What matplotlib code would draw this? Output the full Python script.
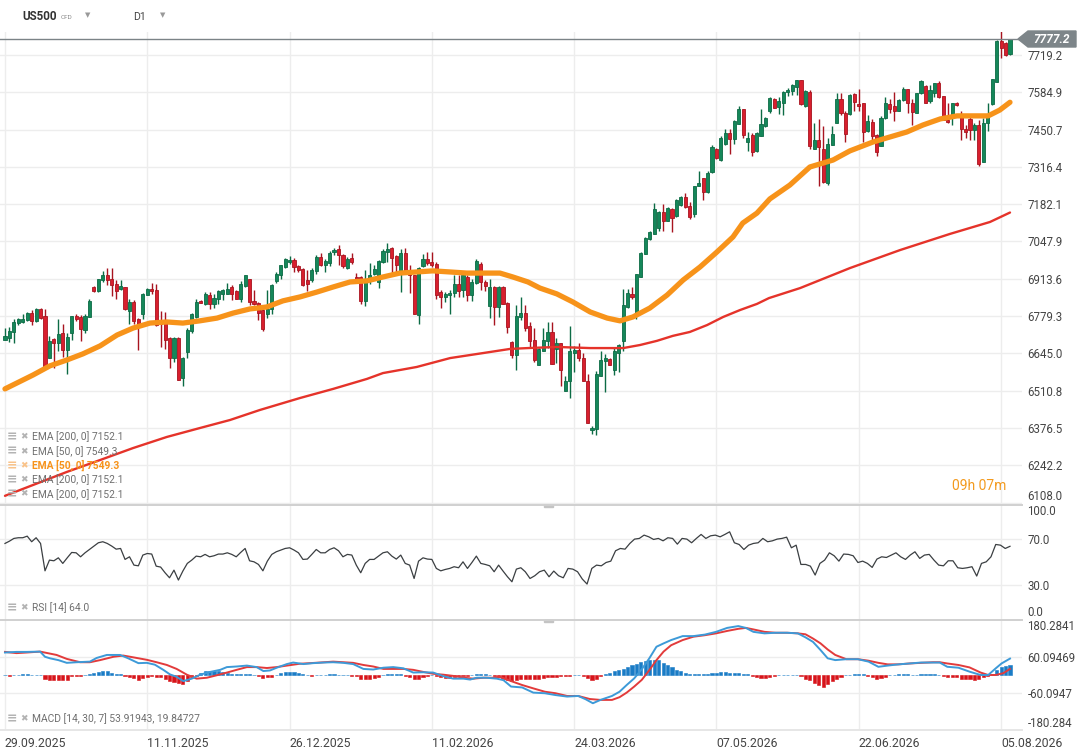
import numpy as np
import matplotlib.pyplot as plt
from matplotlib.patches import Polygon, Rectangle
from matplotlib.lines import Line2D

plt.rcParams['font.family'] = ['Roboto', 'DejaVu Sans']

# --- daily candles, US500 CFD ---
opens = [6693, 6702, 6723, 6755, 6758, 6764, 6792, 6761, 6806, 6780,
         6627, 6695, 6683, 6717, 6657, 6719, 6780, 6776, 6729, 6776,
         6884, 6868, 6908, 6928, 6914, 6896, 6876, 6884, 6797, 6830,
         6767, 6785, 6854, 6876, 6874, 6758, 6758, 6699, 6627, 6699,
         6556, 6651, 6725, 6776, 6835, 6824, 6856, 6824, 6840, 6860,
         6860, 6884, 6868, 6842, 6886, 6914, 6835, 6827, 6800, 6788,
         6806, 6904, 6926, 6956, 6974, 6982, 6960, 6950, 6908, 6908,
         6940, 6992, 6964, 6970, 7009, 7019, 7000, 6952, 6988, 6920,
         6920, 6833, 6914, 6932, 6902, 6974, 7009, 7025, 6995, 6932,
         7007, 6940, 6926, 6783, 6960, 6986, 6974, 6968, 6866, 6848,
         6856, 6862, 6896, 6872, 6920, 6854, 6900, 6968, 6902, 6815,
         6884, 6812, 6884, 6828, 6687, 6639, 6777, 6789, 6745, 6694,
         6604, 6654, 6690, 6721, 6662, 6681, 6509, 6545, 6646, 6658,
         6630, 6547, 6368, 6374, 6562, 6616, 6623, 6586, 6646, 6688,
         6813, 6860, 6783, 6920, 7001, 7055, 7073, 7098, 7153, 7123,
         7165, 7141, 7179, 7209, 7177, 7147, 7249, 7278, 7227, 7299,
         7382, 7340, 7399, 7437, 7418, 7472, 7525, 7406, 7430, 7374,
         7427, 7463, 7516, 7560, 7531, 7548, 7585, 7591, 7605, 7629,
         7534, 7587, 7381, 7414, 7381, 7257, 7395, 7476, 7560, 7512,
         7507, 7578, 7542, 7546, 7444, 7479, 7432, 7393, 7492, 7543,
         7536, 7519, 7557, 7596, 7548, 7512, 7581, 7608, 7552, 7584,
         7617, 7572, 7486, 7498, 7548, 7504, 7453, 7488, 7448, 7468,
         7333, 7474, 7543, 7621, 7769, 7761, 7722]
highs = [6735, 6741, 6770, 6774, 6785, 6794, 6800, 6809, 6810, 6806,
         6708, 6699, 6767, 6749, 6717, 6780, 6788, 6782, 6785, 6839,
         6886, 6914, 6940, 6952, 6952, 6908, 6908, 6884, 6842, 6836,
         6773, 6864, 6880, 6898, 6896, 6797, 6794, 6705, 6705, 6705,
         6633, 6735, 6792, 6839, 6836, 6866, 6866, 6860, 6872, 6878,
         6899, 6890, 6872, 6904, 6928, 6914, 6874, 6830, 6806, 6872,
         6896, 6938, 6964, 6988, 6994, 6988, 6962, 6952, 6944, 6952,
         6998, 7007, 6986, 7012, 7024, 7036, 7004, 6992, 7007, 6936,
         6924, 6944, 6971, 6962, 6980, 7019, 7043, 7028, 7000, 7019,
         7024, 6962, 6928, 6956, 7004, 7009, 7009, 6974, 6872, 6866,
         6872, 6926, 6926, 6928, 6926, 6914, 6983, 6974, 6908, 6912,
         6888, 6888, 6888, 6830, 6689, 6818, 6849, 6819, 6759, 6738,
         6664, 6738, 6757, 6759, 6700, 6682, 6563, 6745, 6670, 6682,
         6646, 6569, 6382, 6580, 6652, 6642, 6628, 6664, 6678, 6876,
         6878, 6885, 6932, 7010, 7063, 7087, 7186, 7159, 7183, 7171,
         7167, 7201, 7213, 7222, 7189, 7249, 7302, 7278, 7302, 7394,
         7386, 7427, 7454, 7451, 7485, 7537, 7525, 7442, 7439, 7442,
         7523, 7497, 7567, 7564, 7569, 7590, 7599, 7614, 7629, 7629,
         7593, 7593, 7474, 7488, 7464, 7420, 7464, 7584, 7581, 7516,
         7579, 7581, 7596, 7548, 7504, 7488, 7436, 7498, 7567, 7560,
         7587, 7561, 7603, 7596, 7560, 7584, 7629, 7611, 7611, 7620,
         7627, 7572, 7548, 7548, 7551, 7516, 7468, 7498, 7474, 7486,
         7492, 7546, 7633, 7773, 7815, 7765, 7777]
lows = [6693, 6687, 6681, 6747, 6755, 6761, 6747, 6758, 6770, 6591,
        6627, 6594, 6653, 6631, 6570, 6693, 6761, 6689, 6718, 6776,
        6866, 6866, 6902, 6890, 6852, 6842, 6872, 6800, 6752, 6752,
        6657, 6770, 6854, 6860, 6744, 6669, 6661, 6594, 6615, 6550,
        6526, 6627, 6717, 6773, 6825, 6818, 6806, 6809, 6824, 6836,
        6860, 6836, 6840, 6830, 6884, 6818, 6818, 6764, 6725, 6773,
        6788, 6900, 6914, 6952, 6968, 6938, 6938, 6888, 6868, 6902,
        6932, 6960, 6938, 6960, 7000, 6962, 6952, 6950, 6968, 6902,
        6824, 6816, 6896, 6926, 6880, 6971, 6974, 6924, 6932, 6866,
        6932, 6864, 6785, 6749, 6956, 6962, 6956, 6842, 6808, 6830,
        6788, 6848, 6848, 6848, 6833, 6833, 6896, 6872, 6868, 6771,
        6747, 6777, 6824, 6717, 6627, 6585, 6765, 6724, 6664, 6614,
        6604, 6654, 6666, 6607, 6610, 6527, 6509, 6485, 6578, 6619,
        6545, 6396, 6353, 6350, 6562, 6507, 6602, 6568, 6578, 6654,
        6809, 6840, 6769, 6920, 7001, 7052, 7073, 7087, 7087, 7120,
        7081, 7135, 7174, 7167, 7129, 7135, 7249, 7198, 7222, 7294,
        7346, 7338, 7394, 7362, 7398, 7469, 7421, 7374, 7356, 7370,
        7427, 7461, 7512, 7528, 7507, 7504, 7572, 7575, 7575, 7540,
        7531, 7381, 7381, 7247, 7259, 7250, 7395, 7474, 7504, 7405,
        7504, 7519, 7516, 7405, 7441, 7405, 7355, 7393, 7488, 7512,
        7480, 7519, 7555, 7512, 7468, 7512, 7579, 7546, 7548, 7569,
        7563, 7486, 7474, 7468, 7534, 7414, 7420, 7414, 7414, 7321,
        7333, 7444, 7540, 7621, 7707, 7717, 7719]
closes = [6708, 6725, 6758, 6767, 6767, 6792, 6761, 6806, 6774, 6594,
          6690, 6681, 6714, 6657, 6705, 6780, 6768, 6732, 6780, 6833,
          6868, 6911, 6928, 6908, 6890, 6868, 6887, 6804, 6830, 6761,
          6749, 6860, 6876, 6868, 6747, 6752, 6693, 6627, 6699, 6550,
          6627, 6729, 6785, 6830, 6827, 6860, 6824, 6846, 6868, 6872,
          6878, 6860, 6842, 6896, 6926, 6830, 6822, 6792, 6732, 6806,
          6892, 6932, 6962, 6986, 6982, 6956, 6944, 6890, 6896, 6944,
          6992, 6964, 6976, 7007, 7016, 6998, 6960, 6986, 6974, 6914,
          6833, 6914, 6926, 6950, 6977, 7012, 7019, 6988, 6964, 7007,
          6940, 6926, 6785, 6952, 6986, 6970, 6962, 6856, 6848, 6860,
          6864, 6896, 6868, 6926, 6854, 6902, 6977, 6902, 6888, 6884,
          6812, 6884, 6824, 6741, 6639, 6780, 6789, 6738, 6690, 6622,
          6660, 6694, 6721, 6607, 6682, 6586, 6547, 6652, 6658, 6630,
          6545, 6396, 6377, 6571, 6620, 6628, 6602, 6652, 6676, 6819,
          6863, 6849, 6929, 7006, 7061, 7081, 7165, 7155, 7120, 7167,
          7132, 7197, 7209, 7171, 7137, 7246, 7257, 7225, 7296, 7389,
          7348, 7421, 7437, 7418, 7480, 7525, 7431, 7421, 7370, 7437,
          7469, 7493, 7564, 7530, 7552, 7587, 7593, 7610, 7629, 7542,
          7590, 7393, 7414, 7388, 7262, 7399, 7436, 7560, 7512, 7436,
          7575, 7551, 7536, 7441, 7480, 7429, 7369, 7492, 7546, 7524,
          7519, 7557, 7597, 7548, 7513, 7581, 7625, 7548, 7593, 7617,
          7567, 7486, 7478, 7546, 7538, 7453, 7441, 7450, 7468, 7328,
          7476, 7504, 7633, 7769, 7743, 7719, 7777]

# moving averages, sampled along the curve (bar position, value)
ema50_x = [0, 6.3, 10.1, 13.9, 17.5, 21.4, 25.2, 28.8, 32.6, 36.4, 40, 43.8, 47.7, 51.3,
           55.1, 58.9, 62.5, 66.3, 70.2, 73.8, 77.6, 81.4, 85, 88.8, 92.6, 96.2, 100.1,
           103.9, 107.5, 111.3, 114.2, 117.6, 120.3, 124.1, 127.7, 131.6, 135.4, 138.3,
           141.2, 145, 148.9, 152.5, 156.3, 160.1, 163.7, 165.9, 169.1, 172, 176.5, 181,
           186.2, 190, 195.2, 199, 202.8, 206.4, 210.3, 214.1, 217.7, 221.1, 223.7, 226]
ema50_v = [6517, 6567, 6600, 6621, 6643, 6672, 6711, 6736, 6754, 6758, 6754, 6762, 6772, 6790,
           6805, 6812, 6834, 6848, 6866, 6884, 6902, 6906, 6920, 6934, 6938, 6942, 6938,
           6934, 6934, 6934, 6920, 6902, 6880, 6859, 6830, 6794, 6772, 6762,
           6776, 6808, 6855, 6909, 6956, 7010, 7064, 7114, 7150, 7201, 7251, 7316,
           7341, 7374, 7406, 7424, 7442, 7467, 7489, 7500, 7500, 7500, 7521, 7549]
ema200_x = [0, 6.3, 13.9, 21.4, 28.8, 36.4, 43.8, 50.6, 57.3, 66.3, 73.8, 81.4, 85, 92.6,
            100.1, 107.5, 113.6, 117.6, 124.1, 131.6, 139, 142.8, 146.6, 150.2, 154, 157.9,
            161.5, 165.3, 169.1, 171.8, 178.8, 190, 201.3, 212.5, 221.5, 226]
ema200_v = [6132, 6171, 6218, 6261, 6304, 6344, 6376, 6405, 6441, 6484, 6517, 6553, 6574, 6596,
            6628, 6646, 6661, 6664, 6668, 6664, 6664, 6675, 6690, 6708, 6722, 6747,
            6776, 6801, 6823, 6844, 6880, 6952, 7017, 7075, 7118, 7152]

# RSI 14
rsi_a = [66.5, 68.5, 70.9, 71.5, 71.5, 72.9, 68, 71.5, 66.5, 42.5,
         51.9, 51.3, 53.9, 49, 53.9, 58.6, 58.3, 54.8, 58.3, 61.2,
         64.2, 67.1, 68, 66.5, 64.2, 61.5, 62.1, 52.5, 54.8, 47.5,
         46.9, 56.3, 57.7, 57.2, 46.6, 45.8, 40.8, 36.4, 43.1, 34.4,
         42.3, 49, 51.9, 55.4, 54.8, 56.9, 54.8, 55.7, 57.2, 57.2,
         58.3, 56.9, 54.8, 58.6, 62.1, 51.3, 50.4, 48.1, 42.5, 51,
         56.9, 59.2, 60.7, 62.1, 62.7, 60.7, 58.3, 52.5, 52.8, 56.9,
         61.2, 58.3, 58.3, 61.2, 62.7, 60.1, 54.8, 56.9, 56.3, 47.5,
         40.8, 49, 52.5, 52.5, 55.4, 58.3, 59.2, 55.4, 52.8, 56.3,
         49, 47.5, 35.8, 51, 53.9, 52.8, 52.5, 44.6, 42.5, 43.7,
         44.6, 46.1, 45.2, 50.4, 44.6, 49.8, 55.4, 49, 48.1, 46.9,
         41.7, 47.5, 42.3, 37.3, 32.9, 44, 45.2]
rsi_b = [41.7, 35.8, 38.2, 41.7, 43.1, 37.3, 42.3, 38.2, 36.4, 44.6,
         44, 41.7, 35.3, 30.9, 44.6, 47.5, 46.9, 49.8, 51, 60.1,
         62.1, 61.5, 66.5, 70.3, 70.9, 73.8, 72.3, 70, 70.9, 68.8,
         71.5, 70.9, 65.9, 70.9, 70.3, 67.1, 70.9, 74.4, 70.9, 73.2,
         73.8, 72.3, 74.4, 76.7, 67.1, 65.6, 61.2, 65, 66.5, 67.1,
         70.9, 68, 68.8, 70.3, 70.9, 72, 62.7, 65, 48.1, 48.1,
         46.6, 38.8, 49, 51.9, 58.3, 55.7, 51, 57.2, 56.9, 55.7,
         49.8, 51, 49, 45.5, 52.8, 54.8, 54.2, 56.3, 58.3, 54.8,
         52.5, 56.3, 59.2, 53.4, 56.3, 56.9, 51.9, 47.5, 46.9, 51.3,
         51.3, 45.2, 44.6, 45.2, 46.1, 37.9, 49, 50.4, 54.8, 65.6,
         65, 62.1, 64.0]

# MACD 14/30/7
macd_x = [0, 2.6, 4.9, 7.9, 9, 10.1, 12, 13.9, 16.1, 19.1, 20.6, 22.9, 25.9, 27.7, 30, 31.9,
          33.7, 35.6, 37.1, 38.6, 40.1, 42, 43.9, 46.1, 48.4, 49.9, 52.1, 54.4, 56.6, 58.1,
          59.6, 61.1, 63.4, 64.8, 67.1, 69.3, 71.6, 73.8, 76.1, 78.3, 80.6, 82.8, 85.1, 87.3,
          89.6, 91.8, 94.1, 96.3, 98.6, 100.8, 103.1, 104.6, 106.1, 108.3, 110.6, 112.1,
          113.8, 116.3, 118.8, 121.4, 123.8, 126.4, 128.9, 130.6, 132.2, 133.9, 136.5, 138.2,
          139.8, 141.5, 143.2, 144.9, 146.5, 148.1, 149.8, 152.4, 154.8, 157.4, 159.9, 162.4,
          164.9, 166.6, 168.3, 170.8, 173.3, 175.9, 178.3, 180, 181.7, 183.4, 185, 186.7,
          189.2, 191.8, 194.2, 196.4, 198.5, 200.9, 203.5, 206, 208.7, 210.2, 211.9, 214.4,
          216.9, 219.4, 221.1, 222.8, 224.1, 226]
macd_v = [74, 76, 76, 77, 60, 55, 49, 40, 42, 44, 56, 66, 66, 55, 39, 40, 34, 17, 2, -6,
          -20, -12, 1, 10, 17, 26, 28, 31, 26, 13, 15, 24, 36, 41, 36, 39, 41, 42, 40, 36,
          20, 18, 24, 26, 22, 8, 9, 8, -4, -12, -12, -15, -9, -9, -12, -17,
          -38, -41, -58, -60, -66, -71, -69, -80, -93, -82, -69, -55, -33, -11,
          19, 55, 93, 104, 115, 128, 128, 133, 142, 155, 161, 155, 142, 137, 139, 139, 137,
          124, 109, 82, 55, 49, 52, 52, 44, 27, 31, 35, 38, 41, 41, 41, 27, 24, 11, 0, 0,
          22, 38, 54]
sig_x = [0, 2.6, 4.9, 7.9, 11.6, 13.9, 16.9, 19.1, 21.4, 24.4, 26.6, 28.9, 31.9, 34.1, 36.4,
         38.6, 40.9, 43.1, 45.4, 47.6, 49.9, 52.1, 54.4, 56.6, 58.9, 61.1, 63.4, 66.3, 68.6,
         70.8, 73.8, 76.1, 78.3, 80.6, 82.8, 85.1, 87.3, 89.6, 91.8, 94.1, 96.3, 98.6, 100.8,
         103.1, 105.3, 107.6, 109.8,
         111.3, 113.8, 116.3, 118.8, 121.4, 123.8, 126.4, 128.9, 131.5, 133.9, 136.5, 138.2,
         139.8, 141.5, 143.2, 144.9, 146.5, 148.1, 149.8, 152.4, 154.8, 157.4, 159.9, 162.4,
         164.9, 166.6, 168.3, 170.8, 173.3, 175.9, 178.3, 180, 181.7, 183.4, 185, 186.7,
         189.2, 191.8, 194.2, 196.4, 198.5, 200.9, 203.5, 206, 208.7, 210.2, 211.9, 214.4,
         216.9, 219.4, 221.1, 222.8, 224.5, 226]
sig_v = [76, 72, 74, 77, 66, 53, 42, 42, 49, 60, 64, 58, 50, 42, 33, 20, 1, -12, -9, -1, 8,
         17, 26, 26, 23, 26, 31, 37, 39, 41, 44, 42, 40, 33, 28, 20, 20, 20, 17, 10, 4, 1,
         -3, -9, -12, -9, -9,
         -6, -20, -33, -44, -55, -60, -69, -69, -79, -82, -82, -73, -58, -38, -16, 16, 49,
         77, 98, 115, 126, 131, 137, 145, 152, 155, 150, 142, 139, 139, 137, 134, 120, 104,
         84, 66, 52, 52, 47, 40, 35, 35, 38, 40, 42, 42, 38, 33, 25, 8, 0, 0, 6, 20]
hist = [0, -2, 0, 0, 2, 2, 0, 0, 0, -13, -15, -17, -15, -15, -15, -3, -3, -3, 0, 3,
        6, 9, 12, 12, 8, 4, 2, -2, -5, -10, -16, -10, -6, -4, -5, -8, -12, -20, -22, -25,
        -30, -20, -8, -2, 6, 12, 12, 12, 13, 10, 6, 4, 4, 4, 3, 2, 0, -4, -10, -8,
        -5, 0, 6, 10, 11, 9, 6, 2, 0, -2, 0, 0, 0, 2, 2, 1, 0, 0, -2, -4,
        -12, -14, -12, -10, -5, 0, 2, 2, 2, 2, -2, -5, -14, -12, -5, -2, 0, -4, -7, -9,
        -9, -6, -4, -2, -2, 0, 2, 2, 2, 0, -3, -8, -14, -17, -20, -17, -14, -14, -14, -14,
        -12, -10, -8, -6, -5, -4, -3, -2, 0, 0, -2, -10, -18, -12, -3, 3, 8, 12, 15, 20,
        27, 33, 37, 42, 45, 48, 50, 50, 40, 33, 25, 18, 12, 6, 4, 4, 3, 3, 3, 6,
        8, 10, 10, 8, 8, 6, 4, 2, -3, -8, -10, -10, -6, -3, 0, 0, 0, 0, 0, -4,
        -12, -18, -27, -33, -40, -30, -20, -12, -6, 0, 0, 2, 2, 2, -3, -8, -14, -10, -5, 0,
        0, 2, 4, 4, 0, 0, 2, 2, 2, 2, 0, -3, -5, -6, -6, -12, -14, -14, -16, -14,
        -6, -4, 2, 15, 25, 30, 33]

price_ticks = [7719.2, 7584.93, 7450.66, 7316.39, 7182.12, 7047.85, 6913.58,
               6779.31, 6645.04, 6510.77, 6376.5, 6242.23, 6107.96]
price_labels = ['7719.2', '7584.9', '7450.7', '7316.4', '7182.1', '7047.9', '6913.6',
                '6779.3', '6645.0', '6510.8', '6376.5', '6242.2', '6108.0']
rsi_ticks = [100, 70, 30, 0]
rsi_labels = ['100.0', '70.0', '30.0', '0.0']
macd_ticks = [180.2841, 60.09469, -60.0947, -180.284]
macd_labels = ['180.2841', '60.09469', '-60.0947', '-180.284']
date_pos = [0, 32, 64, 96, 128, 160, 192, 224]
date_labels = ['29.09.2025', '11.11.2025', '26.12.2025', '11.02.2026',
               '24.03.2026', '07.05.2026', '22.06.2026', '05.08.2026']
last_price = 7777.2

W, H = 1086, 755
fig = plt.figure(figsize=(W / 100, H / 100), dpi=100)


def box(x0, y0, x1, y1):
    # pixel box (top-left origin) -> figure rect
    return [x0 / W, 1 - y1 / H, (x1 - x0) / W, (y1 - y0) / H]


def fx(x):
    return x / W


def fy(y):
    return 1 - y / H


ax_p = fig.add_axes(box(0, 32, 1022, 505))
ax_r = fig.add_axes(box(0, 505, 1022, 620))
ax_m = fig.add_axes(box(0, 620, 1022, 730))

grid_c = '#ededed'
lab_c = '#444444'
n = len(closes)
xlim = (-1.12, 228.7)

for ax in (ax_p, ax_r, ax_m):
    ax.set_xlim(*xlim)
    for s in ax.spines.values():
        s.set_visible(False)
    for d in date_pos:
        ax.axvline(d, color=grid_c, lw=1, zorder=0)
    ax.yaxis.tick_right()
    ax.tick_params(axis='y', length=0, pad=4, labelsize=8.3, labelcolor=lab_c)
    ax.set_xticks(date_pos)
    ax.tick_params(axis='x', length=0)
    ax.set_xticklabels([])

# ---- price panel ----
ax_p.set_ylim(6099, 7802)
for t in price_ticks:
    ax_p.axhline(t, color=grid_c, lw=1, zorder=0)
ax_p.set_yticks(price_ticks)
ax_p.set_yticklabels(price_labels)
ax_p.get_yticklabels()[-1].set_va('bottom')

o = np.array(opens, float)
c = np.array(closes, float)
hi = np.array(highs, float)
lo = np.array(lows, float)
x = np.arange(n)
up = c >= o
body_col = np.where(up, '#15875a', '#d81f2e')
edge_col = np.where(up, '#0c6b45', '#a8141f')
ax_p.vlines(x, lo, hi, colors=edge_col, lw=1, zorder=2)
ax_p.bar(x, np.maximum(np.abs(c - o), 3), bottom=np.minimum(o, c), width=0.7,
         color=body_col, edgecolor=edge_col, linewidth=0.6, zorder=3)

ax_p.plot(ema200_x, ema200_v, color='#e5332a', lw=1.7, zorder=4, solid_capstyle='round')
ax_p.plot(ema50_x, ema50_v, color='#f7931a', lw=3.8, zorder=5, solid_capstyle='round')
ax_p.axhline(last_price, color='#7b8387', lw=1, zorder=6)

# ---- RSI panel ----
ax_r.set_ylim(-0.6, 100.2)
for t in (70, 30):
    ax_r.axhline(t, color=grid_c, lw=1, zorder=0)
rsi_x = list(range(len(rsi_a))) + list(np.linspace(117, 226, len(rsi_b)))
ax_r.plot(rsi_x, rsi_a + rsi_b, color='#3b3f42', lw=0.9)
ax_r.set_yticks(rsi_ticks)
ax_r.set_yticklabels(rsi_labels)
ax_r.get_yticklabels()[0].set_va('top')
ax_r.get_yticklabels()[-1].set_va('bottom')

# ---- MACD panel ----
ax_m.set_ylim(-181, 181)
for t in (60.09469, -60.0947):
    ax_m.axhline(t, color=grid_c, lw=1, zorder=0)
hv = np.array(hist, float)
ax_m.bar(np.arange(len(hv)), hv, width=0.7,
         color=np.where(hv >= 0, '#1a7cc6', '#d7141a'),
         edgecolor=np.where(hv >= 0, '#1a7cc6', '#d7141a'), linewidth=0.4, zorder=2)
ax_m.plot(sig_x, sig_v, color='#e23b3b', lw=1.4, zorder=3)
ax_m.plot(macd_x, macd_v, color='#3d9ad8', lw=1.4, zorder=4)
ax_m.set_yticks(macd_ticks)
ax_m.set_yticklabels(macd_labels)
ax_m.get_yticklabels()[0].set_va('top')
ax_m.get_yticklabels()[-1].set_va('bottom')
ax_m.set_xticklabels(date_labels, ha='left', fontsize=8.8, color=lab_c)
ax_m.tick_params(axis='x', pad=5)

# ---- separators ----
for yy, col in ((505, '#d0d0d0'), (620, '#d0d0d0'), (730, '#e6e6e6')):
    fig.add_artist(Line2D([0, fx(1022)], [fy(yy), fy(yy)], color=col, lw=1.4,
                          transform=fig.transFigure))
for yy in (505, 620):
    fig.add_artist(Rectangle((fx(544), fy(yy + 2)), fx(9), 2.5 / H, color='#c4c4c4',
                             transform=fig.transFigure))

# ---- last price tag ----
tag = Polygon([(fx(1018), fy(39)), (fx(1028), fy(31)), (fx(1076), fy(31)),
               (fx(1076), fy(47)), (fx(1028), fy(47))], closed=True,
              color='#7d8589', transform=fig.transFigure)
fig.add_artist(tag)
fig.text(fx(1052), fy(39.5), f'{last_price:.1f}', color='white', fontsize=8.6,
         style='italic', weight='bold', ha='center', va='center')

# ---- header ----
fig.text(fx(22), fy(17), 'US500', fontsize=8.4, weight='bold', color='#333333', va='center')
fig.text(fx(61), fy(17.5), 'CFD', fontsize=4.6, color='#888888', va='center')
fig.text(fx(85), fy(16), '▼', fontsize=5, color='#999999', va='center')
fig.text(fx(133), fy(17), 'D1', fontsize=7.6, color='#444444', va='center')
fig.text(fx(160), fy(16), '▼', fontsize=5, color='#999999', va='center')

# ---- indicator legends ----
legend_rows = [('EMA [200, 0] 7152.1', False), ('EMA [50, 0] 7549.3', False),
               ('EMA [50, 0] 7549.3', True), ('EMA [200, 0] 7152.1', False),
               ('EMA [200, 0] 7152.1', False)]
for i, (txt, hl) in enumerate(legend_rows):
    yy = 437 + i * 14.3
    tc = '#f7931a' if hl else '#6f6f6f'
    ic = '#f9c38a' if hl else '#b3b3b3'
    fig.text(fx(7), fy(yy), '≡', fontsize=9, color=ic, va='center', weight='bold')
    fig.text(fx(20), fy(yy), '✖', fontsize=6.5, color=ic, va='center')
    fig.text(fx(32), fy(yy), txt, fontsize=7.4, color=tc, va='center',
             weight='bold' if hl else 'normal')
for yy, txt in ((608, 'RSI [14] 64.0'), (719, 'MACD [14, 30, 7] 53.91943, 19.84727')):
    fig.text(fx(7), fy(yy), '≡', fontsize=9, color='#b3b3b3', va='center', weight='bold')
    fig.text(fx(20), fy(yy), '✖', fontsize=6.5, color='#b3b3b3', va='center')
    fig.text(fx(32), fy(yy), txt, fontsize=7.4, color='#6f6f6f', va='center')

fig.text(fx(1006), fy(486), '09h 07m', fontsize=10, color='#f39a1e', ha='right', va='center')

fig.savefig('out.png', dpi=100)
